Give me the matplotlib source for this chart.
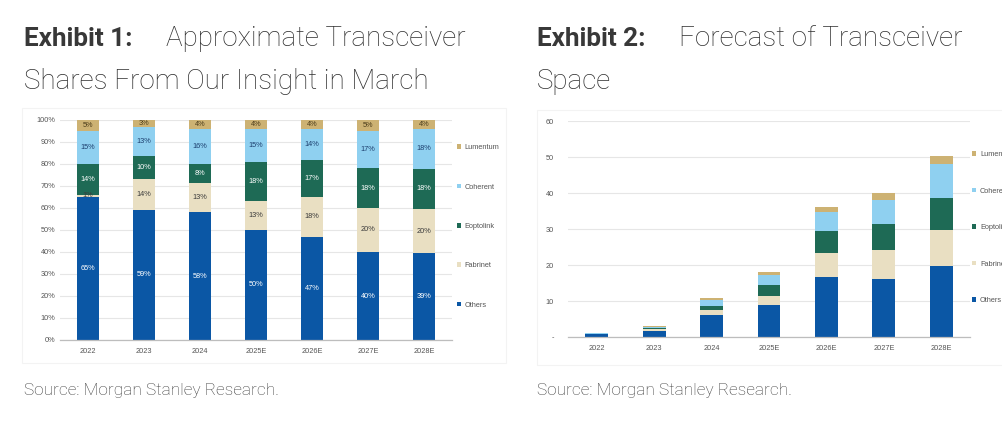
import numpy as np
import matplotlib
matplotlib.use("Agg")
import matplotlib.pyplot as plt
from matplotlib.patches import Rectangle

# --- data ---
years = ["2022", "2023", "2024", "2025E", "2026E", "2027E", "2028E"]
series = ["Others", "Fabrinet", "Eoptolink", "Coherent", "Lumentum"]

# Exhibit 1: share (%)
share_others = [65, 59.1, 58.0, 50, 47, 40, 39.4]
share_fabrinet = [1, 14.1, 13.4, 13, 18, 20, 20.2]
share_eoptolink = [14, 10.4, 8.4, 18, 17, 18, 18.2]
share_coherent = [15, 13.0, 16.3, 15, 14, 17, 18.2]
share_lumentum = [5, 3.4, 3.9, 4, 4, 5, 4.0]

# Exhibit 2: forecast size
size_others = [0.8, 1.8, 6.2, 9.0, 16.8, 16.2, 19.8]
size_fabrinet = [0.02, 0.4, 1.4, 2.3, 6.5, 7.9, 10.0]
size_eoptolink = [0.1, 0.3, 1.0, 3.2, 6.1, 7.4, 8.9]
size_coherent = [0.1, 0.4, 1.8, 2.8, 5.3, 6.6, 9.4]
size_lumentum = [0.03, 0.1, 0.4, 0.8, 1.3, 1.9, 2.1]

pct_ticks = [0, 10, 20, 30, 40, 50, 60, 70, 80, 90, 100]
size_ticks = [0, 10, 20, 30, 40, 50, 60]

colors = {
    "Others": "#0b57a5",
    "Fabrinet": "#e9dfc2",
    "Eoptolink": "#1e6a55",
    "Coherent": "#8fd0f0",
    "Lumentum": "#cdb273",
}
label_colors = {
    "Others": "white",
    "Fabrinet": "#3b3b3b",
    "Eoptolink": "white",
    "Coherent": "#1d3f6e",
    "Lumentum": "#4a3b1a",
}

plt.rcParams["font.family"] = ["Liberation Sans", "DejaVu Sans"]

fig = plt.figure(figsize=(10.03, 4.28), dpi=100)
W, H = 1003, 428


def px_axes(x0, y0, x1, y1):
    return fig.add_axes([x0 / W, 1 - y1 / H, (x1 - x0) / W, (y1 - y0) / H])


def style_axes(ax):
    ax.set_xlim(-0.5, len(years) - 0.5)
    for s in ["top", "right", "left"]:
        ax.spines[s].set_visible(False)
    ax.spines["bottom"].set_color("#bdbdbd")
    ax.spines["bottom"].set_linewidth(0.9)
    ax.grid(axis="y", color="#e6e6e6", linewidth=0.8)
    ax.set_axisbelow(True)
    ax.tick_params(axis="both", length=0, labelsize=5.3, labelcolor="#555555")
    ax.tick_params(axis="x", pad=6)
    ax.set_xticks(range(len(years)))
    ax.set_xticklabels(years)


def stacked(ax, data, width, with_labels):
    x = np.arange(len(years))
    bottom = np.zeros(len(years))
    handles = []
    for name, vals in zip(series, data):
        vals = np.array(vals)
        b = ax.bar(x, vals, width, bottom=bottom, color=colors[name], label=name)
        handles.append(b)
        if with_labels:
            for xi, v, bt in zip(x, vals, bottom):
                ax.text(xi, bt + v / 2, f"{round(v)}%", ha="center", va="center",
                        fontsize=5.3, color=label_colors[name])
        bottom += vals
    return handles


def add_legend(ax, handles, anchor, spacing):
    leg = ax.legend(handles[::-1], series[::-1], loc="upper left",
                    bbox_to_anchor=anchor, frameon=False, fontsize=5.3,
                    handlelength=0.6, handleheight=0.6, handletextpad=0.5,
                    labelspacing=spacing, borderaxespad=0, borderpad=0)
    for t in leg.get_texts():
        t.set_color("#555555")


# faint picture frames
fig.patches.append(Rectangle((22 / W, 1 - 363 / H), 484 / W, 255 / H,
                             transform=fig.transFigure, fill=False,
                             edgecolor="#f3f3f3", linewidth=0.8))
fig.patches.append(Rectangle((537 / W, 1 - 365 / H), 480 / W, 255 / H,
                             transform=fig.transFigure, fill=False,
                             edgecolor="#f3f3f3", linewidth=0.8))

# --- Exhibit 1 ---
ax1 = px_axes(60, 120, 452, 340)
style_axes(ax1)
h1 = stacked(ax1, [share_others, share_fabrinet, share_eoptolink,
                   share_coherent, share_lumentum], 0.4, True)
ax1.set_ylim(0, 100)
ax1.set_yticks(pct_ticks)
ax1.set_yticklabels([f"{t}%" for t in pct_ticks])
add_legend(ax1, h1, (1.012, 0.89), 4.4)

# --- Exhibit 2 ---
ax2 = px_axes(568, 121, 970, 337)
style_axes(ax2)
h2 = stacked(ax2, [size_others, size_fabrinet, size_eoptolink,
                   size_coherent, size_lumentum], 0.4, False)
ax2.set_ylim(0, 60)
ax2.set_yticks(size_ticks)
ax2.set_yticklabels(["-" if t == 0 else str(t) for t in size_ticks])
ax2.tick_params(axis="y", pad=10)
add_legend(ax2, h2, (1.005, 0.86), 4.0)

# --- titles and sources ---
title_font = ["Roboto", "DejaVu Sans"]
for x0, num, line1, line2 in [(24, "1", "Approximate Transceiver", "Shares From Our Insight in March"),
                              (537, "2", "Forecast of Transceiver", "Space")]:
    fig.text(x0 / W, 1 - 46 / H, f"Exhibit {num}:", family=title_font, fontweight="bold",
             fontsize=18.8, color="#383838", va="baseline")
    fig.text((x0 + 142) / W, 1 - 46 / H, line1, family=title_font, fontweight="light",
             fontsize=20, color="#2e2e2e", va="baseline")
    fig.text(x0 / W, 1 - 89 / H, line2, family=title_font, fontweight="light",
             fontsize=20, color="#2e2e2e", va="baseline")
    fig.text(x0 / W, 1 - 395 / H, "Source: Morgan Stanley Research.", family=title_font,
             fontweight="light", fontsize=12.4, color="#3a3a3a", va="baseline")

fig.savefig("out.png", dpi=100)
